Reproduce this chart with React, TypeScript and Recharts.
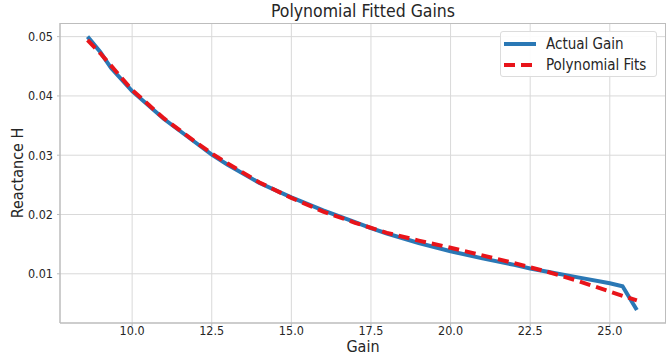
import React from 'react';
import { LineChart, Line, XAxis, YAxis, CartesianGrid } from 'recharts';

const actualGain = [8.6, 9.0, 9.34, 10.0, 11.0, 12.0, 12.5, 13.0, 14.0, 15.0, 16.0, 17.0, 17.5, 18.0, 19.0, 20.0, 21.0, 22.0, 22.5, 23.0, 24.0, 25.0, 25.4, 25.85];
const actualReactance = [0.05, 0.0474, 0.0447, 0.0408, 0.0361, 0.0321, 0.0301, 0.0284, 0.0253, 0.0229, 0.0207, 0.0187, 0.0177, 0.0168, 0.0152, 0.0138, 0.0126, 0.0115, 0.0109, 0.0104, 0.0094, 0.0084, 0.0079, 0.0039];

const fitGain = [8.6, 9.0, 10.0, 11.0, 12.0, 12.5, 13.0, 14.0, 15.0, 16.0, 17.0, 18.0, 19.0, 20.0, 21.0, 22.0, 22.5, 23.0, 24.0, 25.0, 25.85];
const fitReactance = [0.0494, 0.0472, 0.041, 0.0362, 0.0322, 0.0303, 0.0286, 0.0254, 0.0228, 0.0205, 0.0186, 0.0169, 0.0156, 0.0144, 0.0131, 0.0118, 0.0111, 0.0104, 0.0088, 0.007, 0.0055];

const xTicks = [10, 12.5, 15, 17.5, 20, 22.5, 25];
const yTicks = [0.01, 0.02, 0.03, 0.04, 0.05];

const actualData = actualGain.map((x, i) => ({ x, y: actualReactance[i] }));
const fitData = fitGain.map((x, i) => ({ x, y: fitReactance[i] }));

const FONT = '"DejaVu Sans Condensed", "DejaVu Sans", sans-serif';
const TEXT = '#262626';
const BLUE = '#2a78b5';
const RED = '#e8141a';
const FRAME = '#bdbdbd';

const LegendBox = () => (
  <div
    style={{
      position: 'absolute',
      top: 31,
      left: 500,
      width: 157,
      height: 46,
      boxSizing: 'border-box',
      background: 'rgba(255,255,255,0.9)',
      border: '1px solid #dcdcdc',
      borderRadius: 3,
      padding: '1px 0 0 2px',
      fontFamily: FONT,
      fontSize: 15,
      color: TEXT,
      whiteSpace: 'nowrap',
    }}
  >
    <div style={{ display: 'flex', alignItems: 'center', height: 21 }}>
      <svg width={34} height={10}>
        <line x1={1} y1={5} x2={33} y2={5} stroke={BLUE} strokeWidth={4} />
      </svg>
      <span style={{ marginLeft: 9 }}>Actual Gain</span>
    </div>
    <div style={{ display: 'flex', alignItems: 'center', height: 21 }}>
      <svg width={34} height={10}>
        <line x1={1} y1={5} x2={33} y2={5} stroke={RED} strokeWidth={4} strokeDasharray="11 6" />
      </svg>
      <span style={{ marginLeft: 9 }}>Polynomial Fits</span>
    </div>
  </div>
);

export default function App() {
  return (
    <div style={{ position: 'absolute', left: 0, top: 0, width: 670, height: 355, background: '#fff' }}>
      <div
        style={{
          position: 'absolute',
          top: 1,
          left: 60,
          width: 606,
          textAlign: 'center',
          fontFamily: FONT,
          fontSize: 17.5,
          color: TEXT,
        }}
      >
        Polynomial Fitted Gains
      </div>
      <LineChart width={670} height={355} margin={{ top: 23, right: 4, bottom: 0, left: 0 }}>
        <CartesianGrid stroke="#d9d9d9" strokeWidth={1} horizontalValues={yTicks} verticalValues={xTicks} />
        <XAxis
          type="number"
          dataKey="x"
          domain={[7.735, 26.765]}
          ticks={xTicks}
          allowDataOverflow
          tickFormatter={(v: number) => v.toFixed(1)}
          tickLine={{ stroke: FRAME }}
          tickSize={3}
          tickMargin={0}
          height={32}
          axisLine={{ stroke: FRAME, strokeWidth: 1.5 }}
          tick={{ fill: TEXT, fontSize: 12.5, fontFamily: FONT }}
          label={{ value: 'Gain', position: 'insideBottom', offset: 3, fill: TEXT, fontSize: 16, fontFamily: FONT }}
        />
        <YAxis
          type="number"
          dataKey="y"
          domain={[0.0017, 0.0523]}
          ticks={yTicks}
          allowDataOverflow
          tickFormatter={(v: number) => v.toFixed(2)}
          tickLine={{ stroke: FRAME }}
          tickSize={3}
          tickMargin={4}
          width={60}
          axisLine={{ stroke: FRAME, strokeWidth: 1.5 }}
          tick={{ fill: TEXT, fontSize: 12.5, fontFamily: FONT }}
          label={{ value: 'Reactance H', angle: -90, position: 'insideLeft', offset: 17, fill: TEXT, fontSize: 16, fontFamily: FONT, style: { textAnchor: 'middle' } }}
        />
        <Line data={actualData} dataKey="y" type="linear" stroke={BLUE} strokeWidth={4} dot={false} isAnimationActive={false} />
        <Line data={fitData} dataKey="y" type="linear" stroke={RED} strokeWidth={4} strokeDasharray="11 6" dot={false} isAnimationActive={false} />
      </LineChart>
      <div
        style={{
          position: 'absolute',
          left: 60,
          top: 23,
          width: 606,
          height: 300,
          boxSizing: 'border-box',
          borderTop: `1.5px solid ${FRAME}`,
          borderRight: `1.5px solid ${FRAME}`,
          pointerEvents: 'none',
        }}
      />
      <LegendBox />
    </div>
  );
}
